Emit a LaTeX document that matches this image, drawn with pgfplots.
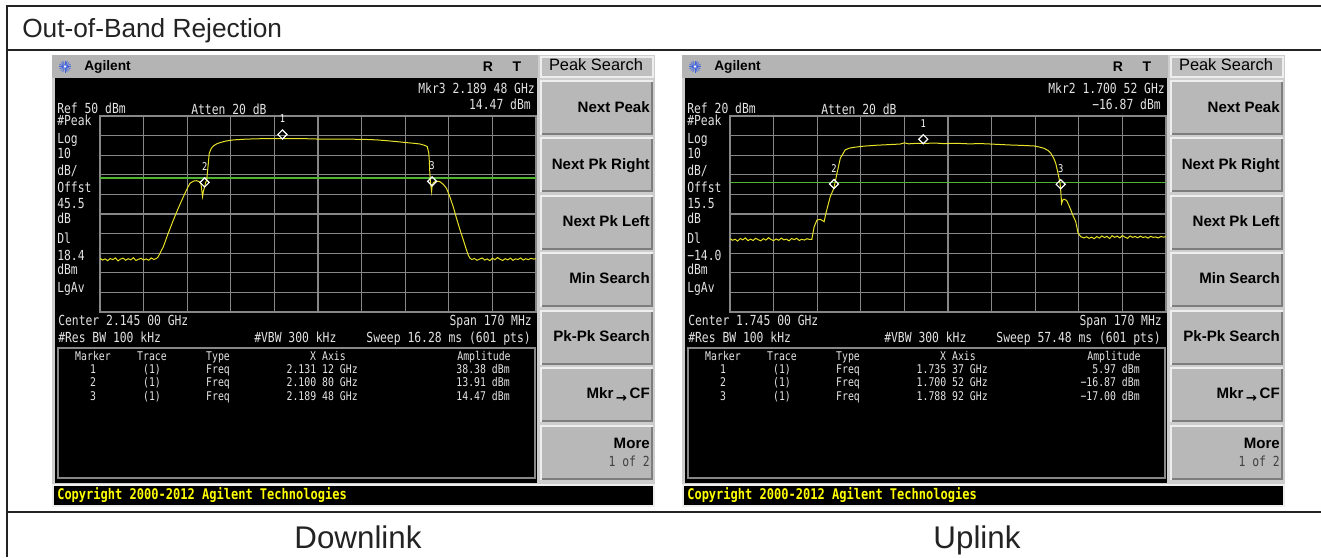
\documentclass[border=0pt]{standalone}
\usepackage{pgfplots}
\usepackage{pgfplotstable}
\pgfplotsset{compat=1.18}
\usepackage{fontspec}
\setmainfont{Liberation Sans}
\newfontfamily\mono[FakeStretch=0.82]{DejaVu Sans Mono}
\newfontfamily\dvs{DejaVu Sans}
\definecolor{linedark}{RGB}{35,35,35}
\definecolor{shotgray}{RGB}{205,205,205}
\definecolor{hdrgray}{RGB}{180,180,180}
\definecolor{btngray}{RGB}{184,184,184}
\definecolor{btnlight}{RGB}{238,238,238}
\definecolor{btndark}{RGB}{125,125,125}
\definecolor{gridgray}{RGB}{135,135,135}
\definecolor{scrtext}{RGB}{228,228,228}
\definecolor{tracey}{RGB}{232,226,40}
\definecolor{dline}{RGB}{80,180,50}
\definecolor{logoblue}{RGB}{60,95,225}
\definecolor{cpyellow}{RGB}{255,255,0}

\pgfplotstableread{
x y
2.0600 -22.6
2.0610 -23.5
2.0620 -22.9
2.0630 -23.8
2.0640 -22.7
2.0650 -23.3
2.0660 -22.4
2.0670 -23.9
2.0680 -23.0
2.0690 -22.5
2.0700 -23.6
2.0710 -22.8
2.0720 -23.4
2.0730 -22.3
2.0740 -23.7
2.0750 -23.1
2.0760 -22.6
2.0770 -23.5
2.0780 -22.9
2.0790 -23.6
2.0800 -22.4
2.0810 -23.2
2.0820 -22.7
2.0826 -22.0
2.0847 -16.7
2.0866 -9.8
2.0886 -3.1
2.0905 2.9
2.0925 8.8
2.0940 13.0
2.0951 15.7
2.0965 16.8
2.0977 17.0
2.0988 16.4
2.0994 15.2
2.0998 11.0
2.1000 8.9
2.1003 11.5
2.1008 13.9
2.1012 16.0
2.1016 17.3
2.1021 24.0
2.1026 31.0
2.1034 33.5
2.1042 34.7
2.1055 35.8
2.1068 36.4
2.1090 37.2
2.1120 37.8
2.1170 38.2
2.1250 38.5
2.1311 38.4
2.1380 38.5
2.1460 38.2
2.1540 38.2
2.1627 38.1
2.1680 37.8
2.1718 37.4
2.1760 36.9
2.1796 36.4
2.1830 36.0
2.1848 35.7
2.1866 35.0
2.1876 34.4
2.1882 31.0
2.1884 27.0
2.1886 21.0
2.1888 17.0
2.1891 13.5
2.1893 11.5
2.1895 14.5
2.1900 16.0
2.1910 16.8
2.1925 16.5
2.1938 15.2
2.1951 13.1
2.1964 8.8
2.1977 3.8
2.1990 -2.2
2.2004 -8.2
2.2017 -13.4
2.2029 -18.4
2.2037 -21.3
2.2043 -22.6
2.2050 -23.2
2.2060 -22.7
2.2070 -23.6
2.2080 -23.0
2.2090 -22.4
2.2100 -23.5
2.2110 -22.9
2.2120 -23.8
2.2130 -22.6
2.2140 -23.3
2.2150 -22.2
2.2160 -23.1
2.2170 -23.7
2.2180 -22.8
2.2190 -23.4
2.2200 -22.5
2.2210 -23.6
2.2220 -22.9
2.2230 -23.2
2.2240 -22.4
2.2250 -23.5
2.2260 -22.8
2.2270 -23.3
2.2280 -22.6
2.2290 -23.0
2.2300 -22.8
}\downlink

\pgfplotstableread{
x y
1.6600 -42.6
1.6610 -43.4
1.6620 -42.9
1.6630 -43.8
1.6640 -42.5
1.6650 -43.2
1.6660 -42.2
1.6670 -43.6
1.6680 -42.8
1.6690 -43.5
1.6700 -42.4
1.6710 -43.1
1.6720 -43.7
1.6730 -42.6
1.6740 -43.3
1.6750 -42.1
1.6760 -43.0
1.6770 -43.6
1.6780 -42.7
1.6790 -43.4
1.6800 -42.3
1.6810 -43.2
1.6820 -42.8
1.6830 -43.7
1.6840 -42.5
1.6850 -43.1
1.6860 -42.4
1.6870 -43.5
1.6880 -42.9
1.6890 -43.3
1.6900 -42.6
1.6910 -43.0
1.6919 -43.0
1.6928 -36.5
1.6939 -33.1
1.6952 -32.7
1.6962 -33.5
1.6967 -33.9
1.6974 -29.6
1.6991 -21.1
1.7005 -16.9
1.7017 -9.3
1.7030 -1.6
1.7049 2.7
1.7065 3.6
1.7082 4.0
1.7120 4.6
1.7173 5.1
1.7220 5.4
1.7264 5.7
1.7280 6.3
1.7297 5.8
1.7320 6.0
1.7354 6.0
1.7400 6.2
1.7434 5.9
1.7480 6.1
1.7530 5.8
1.7580 5.9
1.7616 5.7
1.7660 5.4
1.7694 5.2
1.7740 5.0
1.7786 4.7
1.7805 4.2
1.7825 3.5
1.7840 2.4
1.7851 1.0
1.7862 -1.5
1.7870 -4.1
1.7879 -9.2
1.7887 -14.4
1.7890 -19.0
1.7893 -24.6
1.7897 -23.0
1.7900 -22.5
1.7906 -22.6
1.7913 -23.2
1.7921 -25.5
1.7929 -28.0
1.7938 -31.0
1.7948 -33.9
1.7953 -37.0
1.7957 -39.8
1.7968 -41.6
1.7980 -42.2
1.7990 -41.6
1.8000 -42.4
1.8010 -41.8
1.8020 -42.6
1.8030 -41.5
1.8040 -42.3
1.8050 -41.2
1.8060 -42.0
1.8070 -41.4
1.8080 -42.5
1.8090 -41.1
1.8100 -41.9
1.8110 -41.3
1.8120 -42.2
1.8130 -41.0
1.8140 -41.8
1.8150 -42.4
1.8160 -41.2
1.8170 -41.9
1.8180 -41.5
1.8190 -42.1
1.8200 -41.3
1.8210 -42.0
1.8220 -41.6
1.8230 -42.3
1.8240 -41.4
1.8250 -41.9
1.8260 -41.7
1.8270 -42.2
1.8280 -41.5
1.8290 -41.8
1.8300 -41.6
}\uplink

\tikzset{
  scr/.style={inner sep=0pt, text=scrtext, font=\mono\fontsize{10.4}{11}\selectfont, text height=7.6pt, text depth=1.8pt},
  tbl/.style={inner sep=0pt, text=scrtext, font=\mono\fontsize{9}{10}\selectfont, text height=6.6pt, text depth=1.6pt},
  btn/.style={inner sep=0pt, anchor=east, font=\bfseries\fontsize{11.3}{12}\selectfont, text=black, text height=8pt, text depth=2pt},
}

\newcommand{\button}[2]{%
  \fill[btngray] (540,#1) rectangle (653,#2);
  \draw[btnlight, line width=1.2pt] (540.8,#2) -- (540.8,#1+0.8) -- (653,#1+0.8);
  \draw[btndark, line width=1.2pt] (541.5,#2-0.8) -- (652.2,#2-0.8) -- (652.2,#1+1.5);
}

\newcommand{\shotframe}{%
  \fill[shotgray] (52,55) rectangle (655,507);
  \fill[hdrgray] (52,55) rectangle (538,78);
  \fill[black] (55,78) rectangle (537,483);
  % Peak Search box
  \fill[btnlight] (539.5,55.5) rectangle (653.5,77.5);
  \fill[hdrgray!85!white] (541.5,57.5) rectangle (651.5,75.5);
  \node[inner sep=0pt, font=\fontsize{12.3}{13}\selectfont, text height=8.8pt, text depth=2.4pt] at (596,66.5) {Peak Search};
  \button{80}{135}
  \button{137}{192}
  \button{195}{250}
  \button{252}{307}
  \button{310}{365}
  \button{367}{422}
  \button{425}{480}
  \node[btn] at (650,108) {Next Peak};
  \node[btn] at (650,165) {Next Pk Right};
  \node[btn] at (650,222) {Next Pk Left};
  \node[btn] at (650,279) {Min Search};
  \node[btn] at (650,337) {Pk-Pk Search};
  \node[btn] at (650,394) {Mkr\,{\dvs\bfseries\fontsize{10}{10}\selectfont\raisebox{-3pt}{→}}\,CF};
  \node[btn] at (650,444) {More};
  \node[inner sep=0pt, anchor=east, font=\mono\fontsize{10.4}{11}\selectfont, text=black!75, text height=7.6pt, text depth=1.8pt] at (650,463) {1 of 2};
  % copyright bar
  \fill[btnlight] (52,484) rectangle (655,507);
  \fill[black] (54,485.5) rectangle (653,504.5);
  \node[anchor=west, inner sep=0pt, font=\mono\bfseries\fontsize{11}{12}\selectfont, text=cpyellow, text height=8pt, text depth=2pt] at (57,495) {Copyright 2000-2012 Agilent Technologies};
  % header
  \foreach \a in {0,22.5,...,337.5} \draw[logoblue, line width=0.5pt] (65,66.5) -- ++(\a:6);
  \fill[white] (65,66.5) circle (1.3);
  \node[anchor=west, inner sep=0pt, font=\bfseries\fontsize{10.3}{11}\selectfont] at (84,66.5) {Agilent};
  \node[inner sep=0pt, font=\bfseries\fontsize{10.5}{11}\selectfont] at (488,66.5) {R};
  \node[inner sep=0pt, font=\bfseries\fontsize{10.5}{11}\selectfont] at (517,66.5) {T};
  % marker table box
  \draw[gridgray, line width=0.9pt] (58,348) rectangle (535,478);
  % common screen labels
  \node[scr, anchor=west] at (191,111) {Atten 20 dB};
  \node[scr, anchor=west] at (57,121.7) {\#Peak};
  \node[scr, anchor=west] at (57,139.3) {Log};
  \node[scr, anchor=west] at (57,155) {10};
  \node[scr, anchor=west] at (57,171.7) {dB/};
  \node[scr, anchor=west] at (57,189) {Offst};
  \node[scr, anchor=west] at (57,220) {dB};
  \node[scr, anchor=west] at (57,240) {Dl};
  \node[scr, anchor=west] at (57,271) {dBm};
  \node[scr, anchor=west] at (57,288.3) {LgAv};
  \node[scr, anchor=east] at (532,321.7) {Span 170 MHz};
  \node[scr, anchor=west] at (58,338.3) {\#Res BW 100 kHz};
  \node[scr, anchor=west] at (254,338.3) {\#VBW 300 kHz};
  \node[tbl] at (93,356.7) {Marker};
  \node[tbl] at (152,356.7) {Trace};
  \node[tbl] at (218,356.7) {Type};
  \node[tbl] at (328,356.7) {X Axis};
  \node[tbl] at (484,356.7) {Amplitude};
  \foreach \n/\yy in {1/370,2/383.3,3/396.7}{
    \node[tbl] at (93,\yy) {\n};
    \node[tbl] at (152,\yy) {(1)};
    \node[tbl] at (218,\yy) {Freq};
  }
}

\pgfplotsset{
  sa/.style={
    scale only axis, width=327pt, height=147pt, anchor=south west,
    ymin=-50, ymax=50, ytick={-40,-30,...,40},
    grid=major, major grid style={gridgray, line width=0.8pt},
    axis line style={gridgray, line width=0.8pt},
    xticklabels={}, yticklabels={}, tick style={draw=none},
    clip=true,
  },
  mk/.style={only marks, mark=square, mark size=2.4pt, white, line width=0.9pt,
    mark options={yshift=3.2pt, rotate=45},
    point meta=explicit symbolic, nodes near coords,
    every node near coord/.style={anchor=south, inner sep=0pt, yshift=8.5pt, text=white, font=\mono\fontsize{8}{8}\selectfont}},
}

\begin{document}
\begin{tikzpicture}[x=0.75pt,y=-0.75pt]
\useasboundingbox (0,0) rectangle (1321,557);
\fill[white] (0,0) rectangle (1321,557);

% table lines
\draw[linedark, line width=1.5pt] (7,6) -- (1321,6);
\draw[linedark, line width=1.5pt] (7,5) -- (7,557);
\draw[linedark, line width=1.5pt] (7,50) -- (1321,50);
\draw[linedark, line width=1.5pt] (7,512) -- (1321,512);
\node[anchor=base west, inner sep=0pt, text=linedark, font=\fontsize{19.7}{21}\selectfont] at (22,37.3) {Out-of-Band Rejection};
\node[anchor=base, inner sep=0pt, text=linedark, font=\fontsize{23.5}{25}\selectfont] at (358,548) {Downlink};
\node[anchor=base, inner sep=0pt, text=linedark, font=\fontsize{23.5}{25}\selectfont] at (977,548) {Uplink};

% ---------- Downlink screenshot ----------
\begin{scope}
\shotframe
\node[scr, anchor=east] at (535,90) {Mkr3 2.189 48 GHz};
\node[scr, anchor=east] at (531,106) {14.47 dBm};
\node[scr, anchor=west] at (57,110) {Ref 50 dBm};
\node[scr, anchor=west] at (57,205) {45.5};
\node[scr, anchor=west] at (57,256.7) {18.4};
\node[scr, anchor=west] at (58,321.7) {Center 2.145 00 GHz};
\node[scr, anchor=east] at (531,338.3) {Sweep 16.28 ms (601 pts)};
\node[tbl, anchor=east] at (358,370) {2.131 12 GHz};
\node[tbl, anchor=east] at (358,383.3) {2.100 80 GHz};
\node[tbl, anchor=east] at (358,396.7) {2.189 48 GHz};
\node[tbl, anchor=east] at (510,370) {38.38 dBm};
\node[tbl, anchor=east] at (510,383.3) {13.91 dBm};
\node[tbl, anchor=east] at (510,396.7) {14.47 dBm};
\end{scope}

% ---------- Uplink screenshot ----------
\begin{scope}[shift={(630,0)}]
\shotframe
\node[scr, anchor=east] at (535,90) {Mkr2 1.700 52 GHz};
\node[scr, anchor=east] at (531,106) {−16.87 dBm};
\node[scr, anchor=west] at (57,110) {Ref 20 dBm};
\node[scr, anchor=west] at (57,205) {15.5};
\node[scr, anchor=west] at (57,256.7) {−14.0};
\node[scr, anchor=west] at (58,321.7) {Center 1.745 00 GHz};
\node[scr, anchor=east] at (531,338.3) {Sweep 57.48 ms (601 pts)};
\node[tbl, anchor=east] at (358,370) {1.735 37 GHz};
\node[tbl, anchor=east] at (358,383.3) {1.700 52 GHz};
\node[tbl, anchor=east] at (358,396.7) {1.788 92 GHz};
\node[tbl, anchor=east] at (510,370) {5.97 dBm};
\node[tbl, anchor=east] at (510,383.3) {−16.87 dBm};
\node[tbl, anchor=east] at (510,396.7) {−17.00 dBm};
\end{scope}

% ---------- Downlink trace axis ----------
\begin{axis}[sa, at={(75pt,-234pt)},
  xmin=2.06, xmax=2.23,
  xtick={2.077,2.094,2.111,2.128,2.145,2.162,2.179,2.196,2.213}]
\addplot[dline, line width=1pt] coordinates {(2.06,18.4) (2.23,18.4)};
\addplot[tracey, line width=0.75pt] table[x=x,y=y] {\downlink};
\addplot[mk] coordinates {(2.13112,38.38) [1] (2.10080,13.91) [2] (2.18948,14.47) [3]};
\end{axis}

% ---------- Uplink trace axis ----------
\begin{axis}[sa, at={(547.5pt,-234pt)},
  xmin=1.66, xmax=1.83, ymin=-80, ymax=20, ytick={-70,-60,...,10},
  xtick={1.677,1.694,1.711,1.728,1.745,1.762,1.779,1.796,1.813}]
\addplot[dline, line width=1pt] coordinates {(1.66,-14.0) (1.83,-14.0)};
\addplot[tracey, line width=0.75pt] table[x=x,y=y] {\uplink};
\addplot[mk] coordinates {(1.73537,5.97) [1] (1.70052,-16.87) [2] (1.78892,-17.00) [3]};
\end{axis}
\end{tikzpicture}
\end{document}
